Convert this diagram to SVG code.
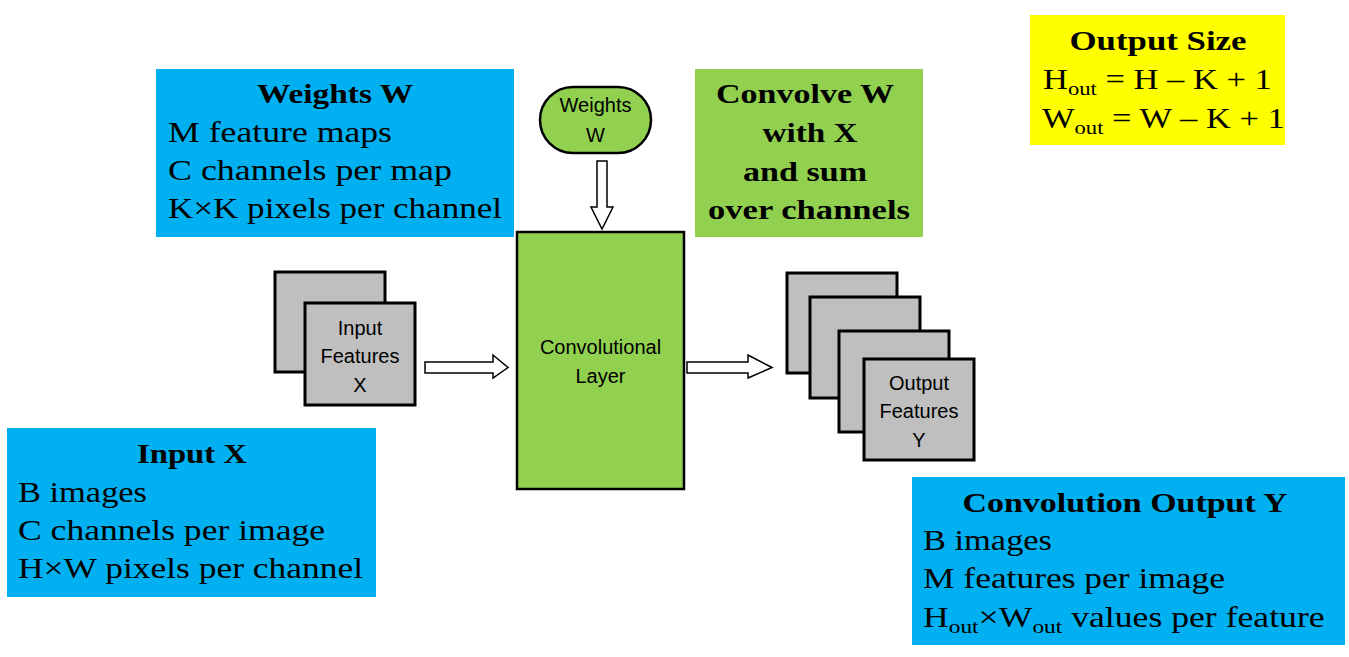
<svg xmlns="http://www.w3.org/2000/svg" width="1349" height="657" viewBox="0 0 1349 657">
<style>
.blue{fill:#00B0F0}
.green{fill:#92D050;stroke:#000;stroke-width:2.5}
.gbox{fill:#92D050}
.yellow{fill:#FFFF00}
.sq{fill:#BFBFBF;stroke:#000;stroke-width:3}
.arrow{fill:#fff;stroke:#000;stroke-width:1.5;stroke-linejoin:miter}
.t{font-family:"Liberation Serif","Times New Roman",serif;font-size:29px;fill:#000}
.tb{font-family:"Liberation Serif","Times New Roman",serif;font-size:28px;font-weight:bold;fill:#000;text-anchor:middle}
.s{font-family:"Liberation Sans",Arial,sans-serif;font-size:20px;fill:#000;text-anchor:middle}
.sub{font-size:19px}
</style>
<rect width="1349" height="657" fill="#fff"/>

<g id="weights-info">
<rect class="blue" x="156" y="69" width="358" height="168"/>
<text class="tb" x="335" y="103" textLength="156" lengthAdjust="spacingAndGlyphs">Weights W</text>
<text class="t" x="168" y="142" textLength="224" lengthAdjust="spacingAndGlyphs">M feature maps</text>
<text class="t" x="168" y="180" textLength="284" lengthAdjust="spacingAndGlyphs">C channels per map</text>
<text class="t" x="168" y="218" textLength="334" lengthAdjust="spacingAndGlyphs">K×K pixels per channel</text>
</g>

<g id="weights-node">
<rect class="green" x="540" y="87" width="111" height="66" rx="33" ry="33"/>
<text class="s" x="595.5" y="112">Weights</text>
<text class="s" x="595.5" y="142">W</text>
</g>

<g id="convolve-info">
<rect class="gbox" x="695" y="69" width="228" height="168"/>
<text class="tb" x="805" y="103" textLength="178" lengthAdjust="spacingAndGlyphs">Convolve W</text>
<text class="tb" x="810" y="142" textLength="95" lengthAdjust="spacingAndGlyphs">with X</text>
<text class="tb" x="805" y="181" textLength="124" lengthAdjust="spacingAndGlyphs">and sum</text>
<text class="tb" x="809" y="219" textLength="202" lengthAdjust="spacingAndGlyphs">over channels</text>
</g>

<g id="output-size">
<rect class="yellow" x="1030" y="15" width="255" height="130"/>
<text class="tb" x="1158" y="50" textLength="177" lengthAdjust="spacingAndGlyphs">Output Size</text>
<text class="t" transform="translate(1043,89) scale(1.19,1)" x="0" y="0">H<tspan class="sub" dy="6">out</tspan><tspan dy="-6"> = H – K + 1</tspan></text>
<text class="t" transform="translate(1042,128) scale(1.19,1)" x="0" y="0">W<tspan class="sub" dy="6">out</tspan><tspan dy="-6"> = W – K + 1</tspan></text>
</g>

<g id="input-features">
<rect class="sq" x="275" y="272" width="110" height="100"/>
<rect class="sq" x="305" y="303" width="110" height="102"/>
<text class="s" x="360" y="335">Input</text>
<text class="s" x="360" y="363">Features</text>
<text class="s" x="360" y="392">X</text>
</g>

<g id="conv-layer">
<rect class="green" x="517" y="232" width="167" height="257"/>
<text class="s" x="600.5" y="354">Convolutional</text>
<text class="s" x="600.5" y="383">Layer</text>
</g>

<g id="output-features">
<rect class="sq" x="787" y="273" width="110" height="100"/>
<rect class="sq" x="810" y="297" width="110" height="101"/>
<rect class="sq" x="839" y="331" width="110" height="101"/>
<rect class="sq" x="864" y="359" width="110" height="101"/>
<text class="s" x="919" y="390">Output</text>
<text class="s" x="919" y="418">Features</text>
<text class="s" x="919" y="447">Y</text>
</g>

<g id="input-info">
<rect class="blue" x="7" y="428" width="369" height="169"/>
<text class="tb" x="192" y="463" textLength="110" lengthAdjust="spacingAndGlyphs">Input X</text>
<text class="t" x="18" y="502" textLength="129" lengthAdjust="spacingAndGlyphs">B images</text>
<text class="t" x="18" y="540" textLength="307" lengthAdjust="spacingAndGlyphs">C channels per image</text>
<text class="t" x="18" y="578" textLength="345" lengthAdjust="spacingAndGlyphs">H×W pixels per channel</text>
</g>

<g id="output-info">
<rect class="blue" x="912" y="477" width="433" height="168"/>
<text class="tb" x="1125" y="512" textLength="325" lengthAdjust="spacingAndGlyphs">Convolution Output Y</text>
<text class="t" x="923" y="550" textLength="129" lengthAdjust="spacingAndGlyphs">B images</text>
<text class="t" x="923" y="588" textLength="302" lengthAdjust="spacingAndGlyphs">M features per image</text>
<text class="t" transform="translate(923,627) scale(1.23,1)" x="0" y="0">H<tspan class="sub" dy="6">out</tspan><tspan dy="-6">×W</tspan><tspan class="sub" dy="6">out</tspan><tspan dy="-6"> values per feature</tspan></text>
</g>

<g id="connectors">
<path class="arrow" d="M597,161 H607 V207 H613 L602,229 L591,207 H597 Z"/>
<path class="arrow" d="M425,362 H493 V355 L508,367.5 L493,378 V373 H425 Z"/>
<path class="arrow" d="M687,362 H748 V355 L772,367.5 L748,378 V373 H687 Z"/>
</g>
</svg>
